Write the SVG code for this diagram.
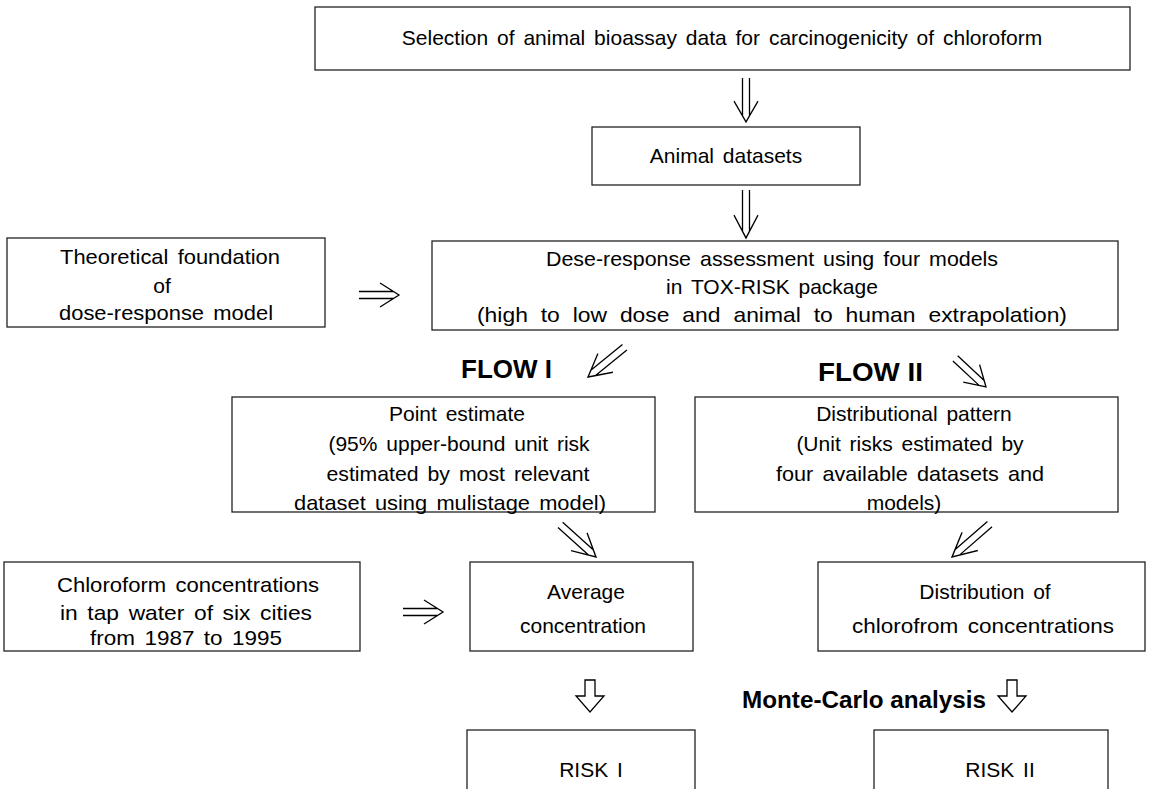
<svg xmlns="http://www.w3.org/2000/svg" xmlns:xlink="http://www.w3.org/1999/xlink" width="1152" height="789" viewBox="0 0 1152 789">
<style>
.box{fill:#fff;stroke:#222;stroke-width:1.3}
.t{font-family:"Liberation Sans",Arial,sans-serif;font-size:21px;fill:#000;text-anchor:middle;word-spacing:3px}
.b{font-family:"Liberation Sans",Arial,sans-serif;font-weight:bold;fill:#000}
.ar{fill:none;stroke:#000;stroke-width:1.3}
.ho{fill:#fff;stroke:#000;stroke-width:1.3}
</style>
<defs>
<path id="dbl" d="M-40,-3.5 H-5.5 M-40,3.5 H-5.5 M-19,-12 L0,0 L-19,12"/>
<path id="hol" d="M-5,0 V16 H-14 L0,32 L14,16 H5 V0 Z"/>
</defs>
<rect width="1152" height="789" fill="#fff"/>
<g id="connectors">
<use xlink:href="#dbl" href="#dbl" class="ar" transform="translate(746,122) rotate(90) scale(1.1,1)"/>
<use xlink:href="#dbl" href="#dbl" class="ar" transform="translate(746,238) rotate(90) scale(1.2,1)"/>
<use xlink:href="#dbl" href="#dbl" class="ar" transform="translate(399,295)"/>
<use xlink:href="#dbl" href="#dbl" class="ar" transform="translate(443,612)"/>
<use xlink:href="#dbl" href="#dbl" class="ar" transform="translate(588,377) rotate(141) scale(1.18,1)"/>
<use xlink:href="#dbl" href="#dbl" class="ar" transform="translate(986,387) rotate(43) scale(1.05,1)"/>
<use xlink:href="#dbl" href="#dbl" class="ar" transform="translate(596,557) rotate(42) scale(1.2,1)"/>
<use xlink:href="#dbl" href="#dbl" class="ar" transform="translate(952,557) rotate(139) scale(1.25,1)"/>
<use xlink:href="#hol" href="#hol" class="ho" transform="translate(590,680)"/>
<use xlink:href="#hol" href="#hol" class="ho" transform="translate(1012,680)"/>
</g>
<g id="n-selection"><rect class="box" x="315" y="7" width="815" height="63"/><text class="t" x="722" y="45">Selection of animal bioassay data for carcinogenicity of chloroform</text></g>
<g id="n-animal"><rect class="box" x="592" y="127" width="268" height="58"/><text class="t" x="726" y="163">Animal datasets</text></g>
<g id="n-theory"><rect class="box" x="7" y="238" width="318" height="89"/>
<text class="t" x="170" y="264" textLength="220" lengthAdjust="spacingAndGlyphs">Theoretical foundation</text><text class="t" x="162" y="293">of</text><text class="t" x="166" y="320" textLength="214" lengthAdjust="spacingAndGlyphs">dose-response model</text></g>
<g id="n-dose"><rect class="box" x="432" y="241" width="686" height="89"/>
<text class="t" x="772" y="266" textLength="452" lengthAdjust="spacingAndGlyphs">Dese-response assessment using four models</text><text class="t" x="772" y="294">in TOX-RISK package</text><text class="t" x="772" y="322" style="word-spacing:6px" textLength="590" lengthAdjust="spacingAndGlyphs">(high to low dose and animal to human extrapolation)</text></g>
<g id="flow1"><text class="b" x="461" y="378" font-size="25" textLength="91" lengthAdjust="spacingAndGlyphs">FLOW I</text></g>
<g id="flow2"><text class="b" x="818" y="381" font-size="25" textLength="105" lengthAdjust="spacingAndGlyphs">FLOW II</text></g>
<g id="n-point"><rect class="box" x="232" y="397" width="423" height="115"/>
<text class="t" x="457" y="421">Point estimate</text><text class="t" x="459" y="451">(95% upper-bound unit risk</text><text class="t" x="458" y="481" textLength="263" lengthAdjust="spacingAndGlyphs">estimated by most relevant</text><text class="t" x="450" y="510" textLength="312" lengthAdjust="spacingAndGlyphs">dataset using mulistage model)</text></g>
<g id="n-distpat"><rect class="box" x="695" y="397" width="423" height="115"/>
<text class="t" x="914" y="421">Distributional pattern</text><text class="t" x="910" y="451">(Unit risks estimated by</text><text class="t" x="910" y="481" textLength="268" lengthAdjust="spacingAndGlyphs">four available datasets and</text><text class="t" x="904" y="510">models)</text></g>
<g id="n-chloro"><rect class="box" x="4" y="562" width="356" height="89"/>
<text class="t" x="188" y="592" textLength="262" lengthAdjust="spacingAndGlyphs">Chloroform concentrations</text><text class="t" x="186" y="620" textLength="252" lengthAdjust="spacingAndGlyphs">in tap water of six cities</text><text class="t" x="186" y="645" textLength="192" lengthAdjust="spacingAndGlyphs">from 1987 to 1995</text></g>
<g id="n-avg"><rect class="box" x="470" y="562" width="223" height="89"/>
<text class="t" x="586" y="599">Average</text><text class="t" x="583" y="633">concentration</text></g>
<g id="n-distconc"><rect class="box" x="818" y="562" width="327" height="89"/>
<text class="t" x="985" y="599">Distribution of</text><text class="t" x="983" y="633" textLength="262" lengthAdjust="spacingAndGlyphs">chlorofrom concentrations</text></g>
<g id="mc"><text class="b" x="742" y="708" font-size="24" textLength="244" lengthAdjust="spacingAndGlyphs">Monte-Carlo analysis</text></g>
<g id="n-risk1"><rect class="box" x="467" y="730" width="228" height="80"/><text class="t" x="591" y="777">RISK I</text></g>
<g id="n-risk2"><rect class="box" x="874" y="730" width="234" height="80"/><text class="t" x="1000" y="777">RISK II</text></g>
</svg>
